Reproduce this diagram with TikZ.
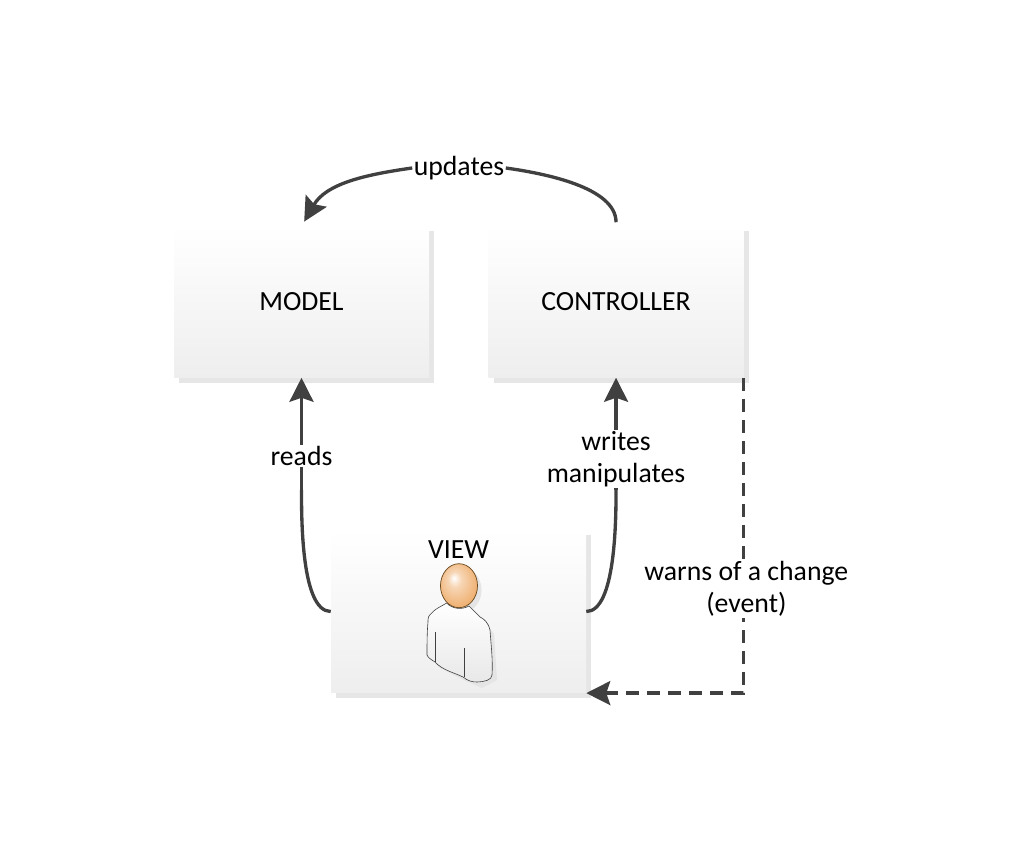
\documentclass[tikz,border=0pt]{standalone}
\usepackage{fontspec}
\setmainfont{Carlito}
\usetikzlibrary{arrows.meta,positioning,shadows}
\definecolor{ArrowGray}{HTML}{404040}
\definecolor{BoxShadow}{HTML}{E6E6E6}
\definecolor{BoxBottom}{HTML}{EEEEEE}
\definecolor{HeadLine}{HTML}{6B4A20}
\definecolor{HeadMid}{HTML}{F0B478}
\definecolor{HeadEdge}{HTML}{D4873A}
\pgfdeclareradialshading{headball}{\pgfpoint{-7bp}{9bp}}{%
  color(0bp)=(white);
  color(9bp)=(HeadMid!55!white);
  color(26bp)=(HeadMid);
  color(46bp)=(HeadEdge)}

\begin{document}
\begin{tikzpicture}[
  x=0.75pt, y=0.75pt,
  every node/.style={font=\fontsize{20.8pt}{24pt}\selectfont, text=black},
  box/.style={inner sep=0pt, align=center, minimum width=191.25pt, minimum height=113.25pt,
    top color=white, bottom color=BoxBottom,
    general shadow={fill=BoxShadow, shadow xshift=3.75pt, shadow yshift=-3.75pt}},
  viewbox/.style={box, minimum height=122pt},
  lbl/.style={fill=white, align=center, inner sep=1pt},
  arr/.style={-{Stealth[length=18pt,width=18pt,inset=3pt]}, line width=2.5pt, color=ArrowGray},
  wire/.style={line width=2.5pt, color=ArrowGray}
]
  \useasboundingbox (0,0) rectangle (1024,851);

  \node[box] (model) at (301.5,549) {MODEL};
  \node[box, right=44.25pt of model] (ctrl) {CONTROLLER};
  \node[viewbox] (view) at (458.5,239.5) {};
  \node[below=4.2pt of view.north] (viewlbl) {VIEW};

  % person icon, in pixel coordinates
  \begin{scope}[shift={(0,851)}, yscale=-1]
    \fill[black!10] (451,608) -- (473,609) -- (484,620) -- (494,634) -- (497,680) -- (482,688) -- (468,682) -- (440,668) -- (433,660) -- cycle;
    \fill[black!10] (463,590) ellipse (18.5 and 22);
    \draw[line width=0.45pt, color=black!75, top color=white, bottom color=black!9]
      (446.7,603) .. controls (440,607) and (435,609) .. (431.7,613)
      .. controls (428,616) and (428,618) .. (428,622)
      .. controls (427,632) and (427,645) .. (427,655)
      .. controls (428,658) and (432,660) .. (435,662)
      .. controls (442,670) and (455,673) .. (463,677)
      .. controls (468,681) and (472,682) .. (477,682)
      .. controls (484,682) and (492,680) .. (492,675)
      .. controls (493,660) and (491,645) .. (490,630)
      .. controls (488,622) and (484,619) .. (480,617)
      .. controls (476,613) and (472,609) .. (469,606)
      .. controls (462,610) and (452,609) .. (446.7,603) -- cycle;
    \draw[line width=0.45pt, color=black!75] (435,632) -- (435,662);
    \draw[line width=0.45pt, color=black!75] (464.3,648) -- (464.3,677);
    \draw[line width=0.55pt, color=HeadLine, shading=headball]
      (459,585.7) ellipse (18.5 and 22);
  \end{scope}

  \node[lbl] (updates) at (459,683) {updates};
  \coordinate[below=84pt of model.south] (readsbend);
  \coordinate[below=84pt of ctrl.south] (writesbend);

  \draw[wire, shorten <=3pt] (ctrl.north) to[out=90, in=-8, looseness=0.8] (updates.east);
  \draw[arr, shorten >=4pt] (updates.west) to[out=188, in=60] (model.north);
  \draw[wire] (view.west) to[out=180, in=270, looseness=0.6] (readsbend);
  \draw[arr] (readsbend) -- node[lbl, pos=0.3] (reads) {reads} (model.south);
  \draw[wire] (view.east) to[out=0, in=270, looseness=0.6] (writesbend);
  \draw[arr] (writesbend) -- node[lbl, pos=0.277] (writes) {writes\\manipulates} (ctrl.south);
  \draw[arr, dash pattern=on 9.75pt off 6pt] (ctrl.south east) |- node[lbl, pos=0.335, xshift=1.9pt] (warns) {warns of a change\\(event)} (view.south east);
\end{tikzpicture}
\end{document}
